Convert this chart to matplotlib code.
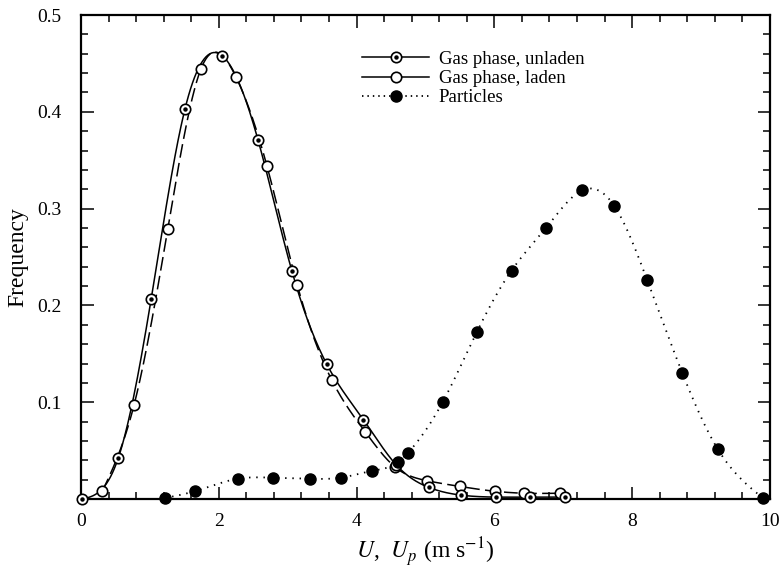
import numpy as np
import matplotlib
matplotlib.use("Agg")
import matplotlib.pyplot as plt
from matplotlib.ticker import MultipleLocator
from matplotlib.legend_handler import HandlerTuple

# ---- data ----
unladen_x = [0.02, 0.54, 1.02, 1.51, 2.05, 2.57, 3.06, 3.57, 4.10, 4.58, 5.05, 5.52, 6.02, 6.52, 7.02]
unladen_y = [0.000, 0.042, 0.207, 0.403, 0.458, 0.371, 0.236, 0.139, 0.082, 0.035, 0.012, 0.004, 0.002, 0.002, 0.002]

laden_x = [0.31, 0.77, 1.26, 1.74, 2.25, 2.70, 3.14, 3.64, 4.13, 4.56, 5.02, 5.50, 6.01, 6.43, 6.95]
laden_y = [0.008, 0.097, 0.279, 0.444, 0.436, 0.344, 0.221, 0.123, 0.069, 0.033, 0.019, 0.013, 0.008, 0.006, 0.006]

part_x = [1.22, 1.65, 2.28, 2.79, 3.32, 3.77, 4.22, 4.60, 4.75, 5.25, 5.75, 6.25, 6.75, 7.28, 7.74, 8.22, 8.73, 9.24, 9.90]
part_y = [0.001, 0.008, 0.021, 0.022, 0.021, 0.022, 0.029, 0.038, 0.048, 0.100, 0.173, 0.236, 0.280, 0.319, 0.303, 0.226, 0.130, 0.052, 0.001]

x_ticks = [0, 2, 4, 6, 8, 10]
y_ticks = [0.1, 0.2, 0.3, 0.4, 0.5]
labels = ["Gas phase, unladen", "Gas phase, laden", "Particles"]


def smooth(x, y, n=500):
    """Natural cubic spline through the data points (for drawing the curve)."""
    x = np.asarray(x, float)
    y = np.asarray(y, float)
    m = len(x)
    h = np.diff(x)
    A = np.zeros((m, m))
    b = np.zeros(m)
    A[0, 0] = A[-1, -1] = 1.0
    for i in range(1, m - 1):
        A[i, i - 1] = h[i - 1]
        A[i, i] = 2 * (h[i - 1] + h[i])
        A[i, i + 1] = h[i]
        b[i] = 3 * ((y[i + 1] - y[i]) / h[i] - (y[i] - y[i - 1]) / h[i - 1])
    c = np.linalg.solve(A, b)
    bc = (y[1:] - y[:-1]) / h - h * (2 * c[:-1] + c[1:]) / 3
    d = (c[1:] - c[:-1]) / (3 * h)
    xs = np.linspace(x[0], x[-1], n)
    idx = np.clip(np.searchsorted(x, xs) - 1, 0, m - 2)
    dx = xs - x[idx]
    ys = y[idx] + bc[idx] * dx + c[idx] * dx ** 2 + d[idx] * dx ** 3
    return xs, ys


plt.rcParams["font.family"] = ["Liberation Serif", "DejaVu Serif"]
plt.rcParams["mathtext.fontset"] = "stix"

fig = plt.figure(figsize=(7.8, 5.73), dpi=100)
ax = fig.add_axes([0.1038, 0.1291, 0.8832, 0.8447])

lw = 1.1
ms = 7.5

# curves
sx, sy = smooth(unladen_x, unladen_y)
ax.plot(sx, sy, color="black", lw=lw, ls="-", zorder=2)
sx, sy = smooth(laden_x, laden_y)
ax.plot(sx, sy, color="black", lw=lw, ls=(0, (9, 3.5)), zorder=2)
sx, sy = smooth(part_x, part_y)
ax.plot(sx, sy, color="black", lw=1.3, ls=(0, (0.8, 3.2)), zorder=2)

# markers
ax.plot(unladen_x, unladen_y, ls="none", marker="o", ms=ms, mfc="white", mec="black", mew=1.2, zorder=4, clip_on=False)
ax.plot(unladen_x, unladen_y, ls="none", marker="o", ms=2.2, mfc="black", mec="black", zorder=5, clip_on=False)
ax.plot(laden_x, laden_y, ls="none", marker="o", ms=ms, mfc="white", mec="black", mew=1.2, zorder=3, clip_on=False)
ax.plot(part_x, part_y, ls="none", marker="o", ms=ms + 0.5, mfc="black", mec="black", zorder=6, clip_on=False)

# legend handles
h_un_line, = ax.plot([], [], color="black", lw=lw, marker="o", ms=ms, mfc="white", mec="black", mew=1.2)
h_un_dot, = ax.plot([], [], ls="none", marker="o", ms=2.2, mfc="black", mec="black")
h_la, = ax.plot([], [], color="black", lw=lw, marker="o", ms=ms, mfc="white", mec="black", mew=1.2)
h_pa, = ax.plot([], [], color="black", lw=1.3, ls=(0, (0.8, 2.2)), marker="o", ms=ms + 0.5, mfc="black", mec="black")

leg = ax.legend([(h_un_line, h_un_dot), h_la, h_pa], labels,
                handler_map={tuple: HandlerTuple(ndivide=1)},
                loc="upper left", bbox_to_anchor=(0.397, 0.942),
                frameon=False, fontsize=13.5, handlelength=3.6,
                handletextpad=0.5, labelspacing=0.12, borderaxespad=0)

ax.set_xlim(0, 10)
ax.set_ylim(0, 0.5)
ax.set_xticks(x_ticks)
ax.set_yticks(y_ticks)
ax.set_xticklabels([str(v) for v in x_ticks])
ax.set_yticklabels([f"{v:.1f}" for v in y_ticks])
ax.xaxis.set_minor_locator(MultipleLocator(0.4))
ax.yaxis.set_minor_locator(MultipleLocator(0.02))
ax.tick_params(which="both", direction="in", top=True, right=True, labelsize=14, width=1.1)
ax.tick_params(which="major", length=9)
ax.tick_params(axis="x", which="major", pad=10)
ax.tick_params(axis="y", which="major", pad=14)
ax.tick_params(which="minor", length=5)
for s in ax.spines.values():
    s.set_linewidth(1.6)

ax.set_xlabel(r"$U$,  $U_p$ (m s$^{-1}$)", fontsize=17, labelpad=4)
ax.set_ylabel("Frequency", fontsize=17, labelpad=6)

fig.savefig("out.png", dpi=100)
